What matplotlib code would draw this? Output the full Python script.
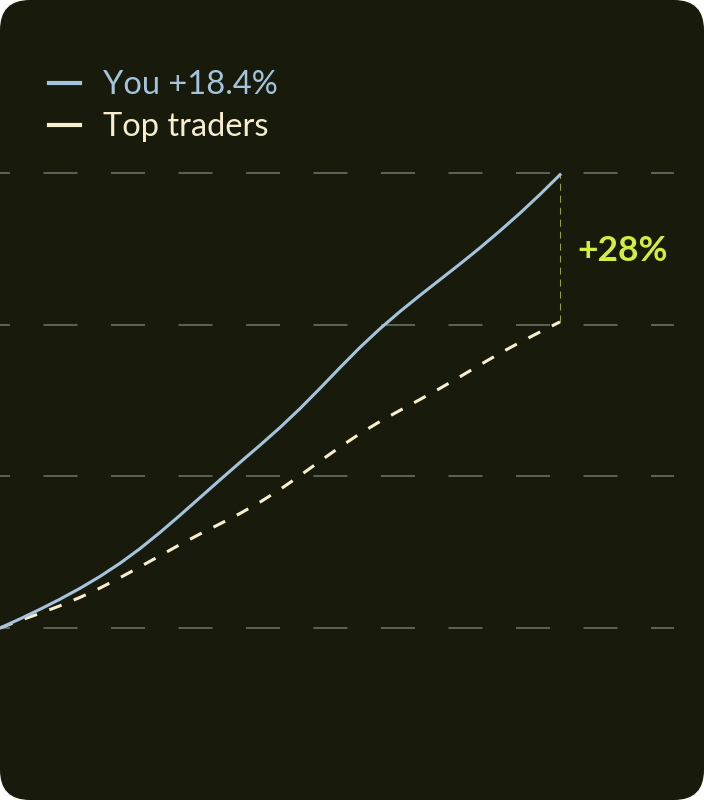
import numpy as np
import matplotlib
matplotlib.use('Agg')
import matplotlib.pyplot as plt
from matplotlib.patches import FancyBboxPatch
from matplotlib.lines import Line2D

## data: cumulative return, one point per step
you = [0.00, 0.36, 0.74, 1.14, 1.57, 2.04, 2.56, 3.14, 3.78, 4.46,
       5.16, 5.86, 6.55, 7.23, 7.93, 8.68, 9.48, 10.30, 11.10, 11.84,
       12.52, 13.16, 13.78, 14.40, 15.04, 15.71, 16.41, 17.15, 17.93]
top = [0.00, 0.30, 0.58, 0.88, 1.21, 1.58, 1.99, 2.42, 2.86, 3.30,
       3.72, 4.12, 4.53, 4.98, 5.48, 6.03, 6.60, 7.16, 7.69, 8.17,
       8.61, 9.04, 9.48, 9.94, 10.41, 10.87, 11.30, 11.71, 12.11]
grid_vals = [0, 6, 12, 18]
label_you = 'You +18.4%'
label_top = 'Top traders'
gap_label = '+28%'

bg = '#181a0b'
c_you = '#a3c4dc'
c_top = '#f7eecf'
c_gap = '#d2ee3e'
c_grid = '#5e6057'

plt.rcParams['font.family'] = ['Lato', 'DejaVu Sans']

fig = plt.figure(figsize=(7.04, 8), dpi=100, facecolor='white')

# rounded card behind everything
bax = fig.add_axes([0, 0, 1, 1])
bax.set_xlim(0, 704)
bax.set_ylim(0, 800)
bax.axis('off')
bax.add_patch(FancyBboxPatch((0, 0), 704, 800,
                             boxstyle='round,pad=0,rounding_size=30',
                             fc=bg, ec='none'))

ax = fig.add_axes([0, 0, 674 / 704, 1])
ax.patch.set_alpha(0)
x = np.arange(len(you))
ax.set_xlim(0, 33.7)
ax.set_ylim(-172 / 25.28, 628 / 25.28)
ax.axis('off')

for g in grid_vals:
    ax.axhline(g, color=c_grid, lw=1.44, ls=(12.0, (17.0, 16.75)), zorder=1)

ax.plot(x, top, color=c_top, lw=2.2, ls=(0, (4.3, 4.3)), zorder=3,
        dash_capstyle='butt', dash_joinstyle='round')
ax.plot(x, you, color=c_you, lw=2.2, zorder=4, solid_joinstyle='round')

# gap marker at the last point
ax.plot([x[-1], x[-1]], [top[-1], you[-1]], color='#93a23f', lw=0.75,
        ls=(0, (6.7, 4.8)), zorder=2)
ax.text(x[-1] + 0.85, (top[-1] + you[-1]) / 2 - 0.12, gap_label, color=c_gap,
        fontsize=25.5, fontweight='bold', va='center', ha='left')

handles = [Line2D([], [], color=c_you, lw=3), Line2D([], [], color=c_top, lw=3)]
leg = ax.legend(handles, [label_you, label_top], loc='upper left',
                bbox_to_anchor=(36 / 674, 1 - 57 / 800), frameon=False,
                fontsize=23.5, handlelength=0.95, handletextpad=0.7,
                labelspacing=0.38, borderaxespad=0, labelcolor=[c_you, c_top])

fig.savefig('out.png', dpi=100, facecolor='white')
